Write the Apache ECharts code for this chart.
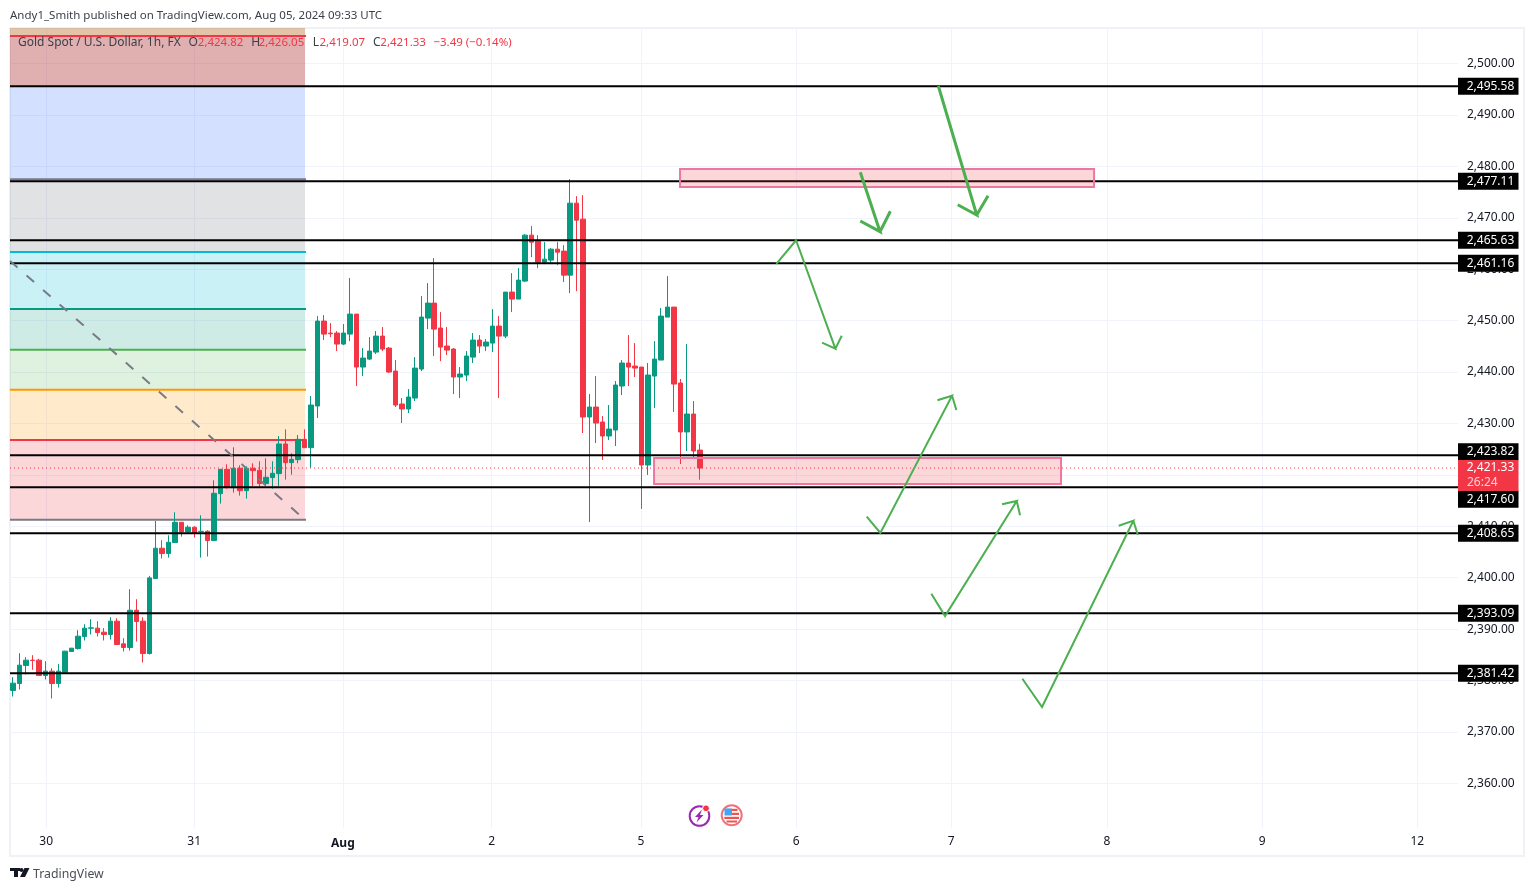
<!DOCTYPE html>
<html>
<head>
<meta charset="utf-8">
<title>XAU/USD 1h</title>
<style>html,body{margin:0;padding:0;background:#fff;overflow:hidden}#c{width:1534px;height:891px}</style>
<script src="https://cdn.jsdelivr.net/npm/echarts@6/dist/echarts.min.js"></script>
</head>
<body>
<div id="c"></div>
<script>
const opens=[2378.06,2379.42,2382.92,2383.96,2383.96,2380.98,2381.82,2379.42,2381.62,2385.64,2386.22,2388.56,2390.18,2390.18,2389.40,2388.95,2391.54,2387.13,2386.42,2393.67,2391.54,2385.25,2399.83,2405.73,2404.69,2406.83,2410.78,2408.90,2409.81,2408.97,2409.03,2407.22,2416.35,2421.08,2417.52,2421.28,2416.93,2421.28,2420.89,2418.30,2419.46,2420.24,2426.01,2422.38,2422.96,2426.91,2425.29,2433.39,2449.91,2447.58,2447.58,2445.44,2447.38,2451.27,2440.97,2442.52,2443.88,2446.99,2444.66,2440.19,2433.78,2432.81,2434.94,2440.58,2450.49,2453.41,2448.55,2445.05,2444.47,2439.03,2439.41,2442.91,2446.22,2445.05,2445.63,2448.94,2446.99,2455.55,2454.19,2457.69,2466.63,2465.46,2461.38,2461.77,2463.90,2463.52,2458.85,2472.85,2469.74,2431.25,2433.19,2430.28,2427.56,2428.72,2437.28,2441.75,2441.16,2440.97,2421.92,2439.22,2442.33,2450.69,2452.63,2437.86,2428.34,2431.83,2424.82];
const closes=[2379.49,2382.98,2383.96,2383.89,2380.98,2381.82,2379.42,2381.82,2385.71,2386.29,2388.62,2390.18,2390.24,2389.33,2388.95,2391.54,2387.00,2386.42,2393.67,2391.47,2385.25,2399.96,2405.73,2404.69,2406.89,2410.78,2408.90,2409.81,2408.71,2409.03,2407.22,2416.42,2421.08,2417.52,2421.28,2416.93,2421.28,2420.82,2418.30,2419.53,2420.30,2426.01,2422.38,2423.02,2426.91,2425.29,2433.58,2449.91,2447.38,2447.45,2445.44,2447.58,2451.27,2440.97,2442.72,2444.08,2446.99,2444.47,2440.00,2433.58,2432.81,2435.14,2440.77,2450.69,2453.41,2448.35,2444.86,2444.27,2439.03,2439.61,2443.11,2446.22,2445.05,2445.83,2448.94,2446.99,2455.55,2454.19,2457.88,2466.63,2465.27,2461.38,2461.96,2463.90,2463.32,2458.85,2472.85,2469.54,2431.25,2433.19,2430.08,2427.56,2428.92,2437.47,2441.75,2440.97,2440.77,2421.92,2439.41,2442.52,2450.88,2452.63,2437.66,2428.34,2431.83,2424.64,2421.33];
const lows=[2376.89,2378.25,2381.17,2382.08,2380.98,2380.20,2376.51,2378.64,2381.56,2385.64,2386.03,2387.78,2388.95,2388.56,2387.78,2387.97,2387.00,2385.64,2385.83,2387.58,2383.50,2385.06,2399.83,2403.72,2403.91,2406.83,2407.99,2408.51,2407.80,2403.91,2404.11,2407.22,2414.41,2417.32,2416.55,2415.96,2415.38,2417.84,2417.71,2417.84,2417.32,2417.84,2419.07,2420.04,2422.25,2425.29,2421.40,2431.06,2446.22,2446.80,2444.08,2445.24,2446.02,2437.28,2439.22,2442.33,2443.50,2444.08,2439.80,2433.19,2430.08,2432.03,2434.36,2440.19,2448.35,2443.11,2442.13,2443.30,2435.72,2434.94,2438.25,2441.75,2443.69,2444.08,2443.88,2434.94,2446.61,2451.66,2454.19,2457.49,2462.35,2460.21,2460.99,2460.99,2460.79,2457.49,2455.35,2455.74,2428.14,2410.84,2426.20,2422.89,2426.78,2425.61,2435.53,2437.28,2439.03,2413.37,2419.98,2433.00,2442.33,2450.69,2432.22,2422.11,2424.64,2423.28,2419.07];
const highs=[2380.65,2385.32,2384.54,2384.93,2384.22,2383.76,2382.40,2383.24,2385.77,2386.29,2389.79,2390.95,2391.93,2391.54,2390.18,2392.31,2392.12,2388.23,2397.76,2395.81,2392.31,2400.35,2411.04,2407.28,2408.25,2412.72,2410.78,2410.20,2410.00,2412.14,2409.22,2418.94,2421.08,2422.05,2425.36,2421.86,2421.66,2422.25,2422.64,2423.22,2422.64,2427.56,2428.86,2424.19,2427.75,2428.86,2435.33,2450.88,2451.08,2449.52,2447.97,2449.33,2458.27,2451.27,2444.66,2446.80,2447.97,2448.74,2444.86,2442.33,2434.94,2436.69,2442.91,2454.77,2457.30,2462.16,2451.66,2448.74,2444.66,2440.97,2444.08,2447.58,2447.19,2446.41,2452.24,2450.88,2455.55,2459.24,2460.21,2466.82,2468.38,2466.63,2465.27,2464.10,2465.27,2464.68,2477.51,2474.21,2474.40,2435.72,2439.22,2431.44,2433.58,2438.25,2442.33,2447.19,2445.63,2440.97,2441.75,2446.02,2452.44,2458.66,2452.63,2438.64,2445.44,2434.36,2426.05];

const slotCount=224;
const priceMin=2351.31, priceMax=2506.92;
const priceTicks=[2500,2490,2480,2470,2460,2450,2440,2430,2420,2410,2400,2390,2380,2370,2360];
const dayTickSlots=[5.6,28.5,51.5,74.5,97.6,121.6,145.6,169.7,193.7,217.7];
const dayTickLabels=['30','31','Aug','2','5','6','7','8','9','12'];

const levelPrices=[2495.58,2477.11,2465.63,2461.16,2423.82,2417.60,2408.65,2393.09,2381.42];
const lastPrice=2421.33, countdown='26:24';

const fibEndSlot=45.64;
const zoneTops=[2506.92,2505.37,2495.64,2477.49,2463.35,2452.27,2444.35,2436.57,2426.79];
const zoneBottoms=[2505.37,2495.64,2477.49,2463.35,2452.27,2444.35,2436.57,2426.79,2411.28];
const zoneFills=['rgba(175,86,9,.35)','rgba(166,29,29,.35)','rgba(41,98,255,.2)','rgba(120,123,134,.22)','rgba(0,188,212,.21)','rgba(8,153,129,.2)','rgba(76,175,80,.18)','rgba(255,152,0,.2)','rgba(242,54,69,.2)'];
const fibLinePrices=[2505.37,2477.49,2463.35,2452.27,2444.35,2436.57,2426.79,2411.28];
const fibLineColors=['#f23645','#787b86','#00bcd4','#089981','#4caf50','#ff9800','#f23645','#787b86'];

const trendLine=[[0,2461.60],[45.33,2411.61]];
const boxes=[[103.65,2479.50,167.70,2476.00],[99.63,2423.28,162.59,2418.23]];

const arrowThick1=[[143.61,2495.64],[149.55,2470.55],[146.61,2472.55],[149.55,2470.55],[151.30,2474.30]];
const arrowThick2=[[131.54,2478.86],[134.59,2467.30],[131.54,2469.38],[134.59,2467.30],[136.19,2471.27]];
const arrowDown=[[118.55,2461.02],[121.60,2465.63],[127.68,2444.54],[125.62,2445.71],[127.68,2444.54],[128.67,2447.07]];
const arrowUp1=[[132.53,2411.87],[134.64,2408.69],[145.73,2435.40],[143.46,2434.51],[145.73,2435.40],[146.40,2432.62]];
const arrowUp2=[[142.53,2396.89],[144.65,2392.55],[155.74,2414.92],[153.47,2414.28],[155.74,2414.92],[156.25,2412.14]];
const arrowUp3=[[156.61,2380.35],[159.65,2374.85],[173.78,2411.09],[171.52,2410.11],[173.78,2411.09],[174.46,2408.36]];

const publishedText='Andy1_Smith published on TradingView.com, Aug 05, 2024 09:33 UTC';
const legendTexts=['Gold Spot / U.S. Dollar, 1h, FX','O','2,424.82','H','2,426.05','L','2,419.07','C','2,421.33','−3.49 (−0.14%)'];
const brandText='TradingView';

/* ---- styling ---- */
const FONT='"Noto Sans"';
const GREEN='#089981', RED='#f23645', DARK='#131722', ARROW='#4caf50', GRID='#f0f3fa', PINK='#f076a2';
const levelLabelShift={'2423.82':-3.5,'2417.6':12};
const fmt=v=>v.toLocaleString('en-US',{minimumFractionDigits:2,maximumFractionDigits:2});
const categories=Array.from({length:slotCount},(_,i)=>String(i));
const ohlc=opens.map((o,i)=>[o,closes[i],lows[i],highs[i]]);

const zoneSeries={type:'custom',xAxisIndex:1,yAxisIndex:0,z:1,silent:true,encode:{x:[0,2],y:[1,3]},
  data:zoneTops.map((t,i)=>[0,t,fibEndSlot,zoneBottoms[i]]),
  renderItem(p,api){
    const a=api.coord([api.value(0),api.value(1)]),b=api.coord([api.value(2),api.value(3)]);
    return {type:'rect',shape:{x:a[0],y:a[1],width:b[0]-a[0],height:b[1]-a[1]},style:{fill:zoneFills[p.dataIndex]}};
  }};
const fibLineSeries={type:'custom',xAxisIndex:1,yAxisIndex:0,z:1,silent:true,encode:{x:0,y:1},
  data:fibLinePrices.map(v=>[fibEndSlot,v]),
  renderItem(p,api){
    const b=api.coord([api.value(0),api.value(1)]),a=api.coord([0,api.value(1)]);
    return {type:'line',shape:{x1:a[0],y1:a[1],x2:b[0]+1,y2:b[1]},style:{stroke:fibLineColors[p.dataIndex],lineWidth:2}};
  }};
const candle={type:'candlestick',xAxisIndex:0,yAxisIndex:1,z:2,barWidth:5,silent:true,data:ohlc,
  itemStyle:{color:GREEN,color0:RED,borderColor:GREEN,borderColor0:RED,borderWidth:1}};
const overlayLine=(d,style,z)=>({type:'line',xAxisIndex:1,yAxisIndex:0,z,silent:true,symbol:'none',data:d,lineStyle:style});
const lastLine=overlayLine([[0,lastPrice],[slotCount,lastPrice]],{color:RED,width:1,type:[1,3]},3);
const levelLines=levelPrices.map(v=>overlayLine([[0,v],[slotCount,v]],{color:'#000',width:2},4));
const trend=overlayLine(trendLine,{color:'#787b86',width:2,type:[10,12]},4);
const boxSeries={type:'custom',xAxisIndex:1,yAxisIndex:0,z:5,silent:true,encode:{x:[0,2],y:[1,3]},data:boxes,
  renderItem(p,api){
    const a=api.coord([api.value(0),api.value(1)]),b=api.coord([api.value(2),api.value(3)]);
    return {type:'rect',shape:{x:a[0],y:a[1],width:b[0]-a[0],height:b[1]-a[1]},style:{fill:'rgba(242,54,69,.2)',stroke:PINK,lineWidth:2}};
  }};
const arrow=(d,w)=>overlayLine(d,{color:ARROW,width:w,join:'miter'},6);
const levelTags={type:'custom',xAxisIndex:1,yAxisIndex:0,z:8,silent:true,encode:{x:0,y:1},
  data:levelPrices.map(v=>[slotCount,v]),
  renderItem(p,api){
    const v=api.value(1),c=api.coord([api.value(0),v]);
    const y=c[1]+(levelLabelShift[String(v)]||0);
    return {type:'group',children:[
      {type:'rect',shape:{x:c[0],y:y-8.5,width:60.5,height:17},style:{fill:'#000'}},
      {type:'text',style:{x:c[0]+32.5,y:y,text:fmt(v),fill:'#fff',font:'12px '+FONT,align:'center',verticalAlign:'middle'}}
    ]};
  }};
const lastTag={type:'custom',xAxisIndex:1,yAxisIndex:0,z:9,silent:true,encode:{x:0,y:1},data:[[slotCount,lastPrice]],
  renderItem(p,api){
    const c=api.coord([api.value(0),api.value(1)]);
    return {type:'group',children:[
      {type:'rect',shape:{x:c[0],y:c[1]-8,width:60.5,height:31},style:{fill:RED}},
      {type:'text',style:{x:c[0]+32.5,y:c[1],text:fmt(api.value(1)),fill:'#fff',font:'12px '+FONT,align:'center',verticalAlign:'middle'}},
      {type:'text',style:{x:c[0]+9,y:c[1]+14.5,text:countdown,fill:'#fdd0d4',font:'12px '+FONT,align:'left',verticalAlign:'middle'}}
    ]};
  }};

const legendX=[18,188.6,197.8,251.2,258.6,312.7,319.5,372.9,380.3,433.4];
const legendRed=[false,false,true,false,true,false,true,false,true,true];
const txt=(x,y,s,fill,size)=>({type:'text',x,y,z:30,silent:true,style:{text:s,fill,font:(size||12)+'px '+FONT,verticalAlign:'middle'}});
const graphics=[
  {type:'rect',z:-1,silent:true,shape:{x:10,y:28,width:1514,height:828},style:{fill:'none',stroke:'#eff1f7',lineWidth:2}},
  txt(10,16,publishedText,'#3b3f4a',11.5),
  ...legendTexts.map((s,i)=>txt(legendX[i],43,s,legendRed[i]?RED:'#3b3f4a',legendRed[i]?11.5:12)),
  txt(33,874.5,brandText,'#4a4e58',12.3),
  {type:'rect',z:30,silent:true,shape:{x:10,y:868,width:10,height:3},style:{fill:DARK}},
  {type:'rect',z:30,silent:true,shape:{x:14,y:868,width:4,height:9},style:{fill:DARK}},
  {type:'circle',z:30,silent:true,shape:{cx:21.5,cy:870,r:2},style:{fill:DARK}},
  {type:'polygon',z:30,silent:true,shape:{points:[[24.5,868],[29.5,868],[25,877],[20,877]]},style:{fill:DARK}},
  {type:'circle',z:30,silent:true,shape:{cx:699.5,cy:816,r:9.8},style:{fill:'#fff',stroke:'#9c27b0',lineWidth:2}},
  {type:'polygon',z:30,silent:true,shape:{points:[[702,809.5],[695,817],[698.5,817],[696.5,822.5],[703.5,815],[700,815]]},style:{fill:'#9c27b0'}},
  {type:'circle',z:31,silent:true,shape:{cx:706,cy:808.3,r:3.4},style:{fill:RED,stroke:'#fff',lineWidth:1}},
  {type:'circle',z:30,silent:true,shape:{cx:731.7,cy:815.3,r:10},style:{fill:'#fff',stroke:'#f0707c',lineWidth:2}},
  {type:'rect',z:31,silent:true,shape:{x:727,y:808.8,width:10.5,height:2.2},style:{fill:'#ef5350'}},
  {type:'rect',z:31,silent:true,shape:{x:732,y:812.8,width:7,height:2.2},style:{fill:'#ef5350'}},
  {type:'rect',z:31,silent:true,shape:{x:724.3,y:816.8,width:14.7,height:2.2},style:{fill:'#ef5350'}},
  {type:'rect',z:31,silent:true,shape:{x:726.5,y:820.5,width:10.5,height:2},style:{fill:'#ef5350'}},
  {type:'rect',z:32,silent:true,shape:{x:724.5,y:808.5,width:7.5,height:7},style:{fill:'#42a5f5'}}
];

const chart=echarts.init(document.getElementById('c'),null,{renderer:'canvas'});
chart.setOption({
  animation:false,backgroundColor:'#fff',
  grid:[
    {left:10,right:76,top:28,bottom:63,show:false},
    {left:10,width:1450.8,top:28,bottom:63,show:false}
  ],
  xAxis:[
    {type:'category',gridIndex:1,data:categories,show:false,boundaryGap:true},
    {type:'value',gridIndex:0,min:0,max:slotCount,position:'bottom',
     axisLine:{show:false},
     axisTick:{show:false,customValues:dayTickSlots},
     splitLine:{show:true,lineStyle:{color:GRID,width:1}},
     axisLabel:{show:true,customValues:dayTickSlots,margin:8,fontFamily:FONT,fontSize:12,color:DARK,showMinLabel:true,showMaxLabel:true,
       formatter:v=>{const s=dayTickLabels[dayTickSlots.indexOf(v)];return s==='Aug'?'{b|Aug}':s;},
       rich:{b:{fontFamily:FONT,fontSize:12,fontWeight:'bold',color:DARK,padding:[2,0,0,0]}}}}
  ],
  yAxis:[
    {type:'value',gridIndex:0,min:priceMin,max:priceMax,position:'right',
     axisLine:{show:false},
     axisTick:{show:false,customValues:priceTicks},
     splitLine:{show:true,lineStyle:{color:GRID,width:1}},
     axisLabel:{show:true,customValues:priceTicks,margin:9,fontFamily:FONT,fontSize:12,color:DARK,formatter:v=>fmt(v),padding:[0,0,3,0]}},
    {type:'value',gridIndex:1,min:priceMin,max:priceMax,show:false,splitLine:{show:false}}
  ],
  graphic:{elements:graphics},
  series:[zoneSeries,fibLineSeries,candle,lastLine,...levelLines,trend,boxSeries,
    arrow(arrowThick1,3),arrow(arrowThick2,3),arrow(arrowDown,2),arrow(arrowUp1,2),arrow(arrowUp2,2),arrow(arrowUp3,2),
    levelTags,lastTag]
});
</script>
</body>
</html>
